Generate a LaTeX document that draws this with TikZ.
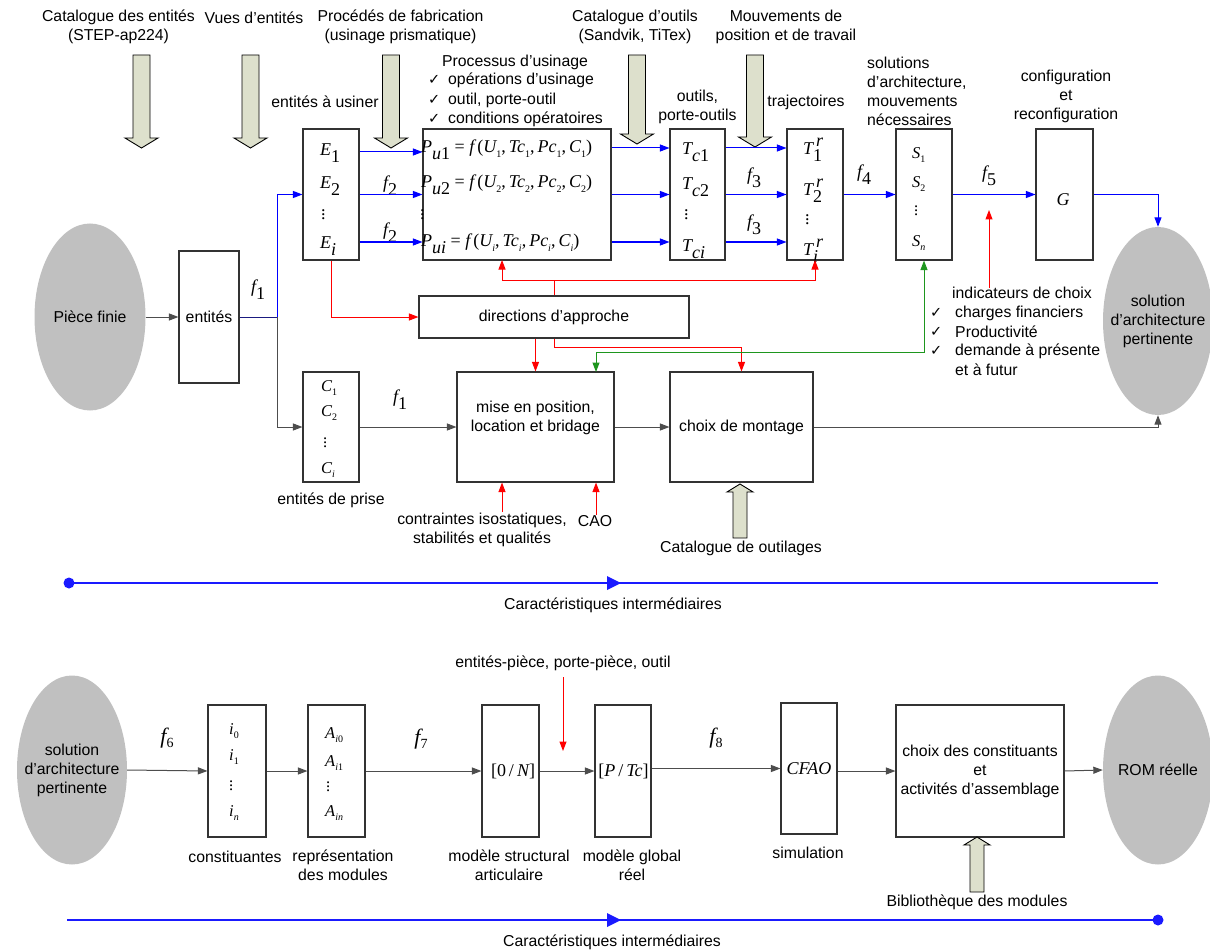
\documentclass[tikz,border=0pt]{standalone}
\usepackage{fontspec}
\setmainfont{Liberation Sans}
\newfontfamily\tms{Liberation Serif}
\newfontfamily\dvs{DejaVu Sans}
\usetikzlibrary{arrows.meta,shapes.geometric}
\definecolor{boxc}{HTML}{333333}
\definecolor{linec}{HTML}{4D4D4D}
\definecolor{ellc}{HTML}{C0C0C0}
\definecolor{olv}{HTML}{DDE0CC}
\definecolor{grn}{HTML}{1E961E}
\definecolor{navyc}{HTML}{1A1A80}
\definecolor{tlblue}{HTML}{1A1AFF}
\newcommand{\mvar}[1]{{\itshape #1}}
\newcommand{\bigsub}[1]{\raisebox{-.40em}{#1}}
\newcommand{\smsub}[1]{\raisebox{-.25em}{\fontsize{10}{10}\selectfont #1}}
\newcommand{\bigsup}[1]{\raisebox{.42em}{#1}}
\newcommand{\vdt}{\raisebox{0pt}[8pt][0pt]{$\vdots$}}
\newcommand{\hdown}[3]{\draw[hollow] (#1-8.5,#2) -- (#1-8.5,#3-10) -- (#1-16.5,#3-10) -- (#1,#3) -- (#1+16.5,#3-10) -- (#1+8.5,#3-10) -- (#1+8.5,#2) -- cycle;}
\newcommand{\hup}[3]{\draw[hollow] (#1-7,#3) -- (#1-7,#2+8) -- (#1-13,#2+8) -- (#1,#2) -- (#1+13,#2+8) -- (#1+7,#2+8) -- (#1+7,#3) -- cycle;}
\begin{document}
\begin{tikzpicture}[x=1pt,y=-1pt,
  every node/.style={font=\fontsize{15.8}{19}\selectfont, inner sep=0pt, text=black},
  box/.style={draw=boxc, line width=1.1pt, fill=white},
  mth/.style={font=\tms\fontsize{18}{19}\selectfont, inner sep=0pt},
  mths/.style={font=\tms\fontsize{16.5}{19}\selectfont, inner sep=0pt},
  mthb/.style={font=\tms\fontsize{18}{20}\selectfont, inner sep=0pt},
  mthf/.style={font=\tms\fontsize{22}{22}\selectfont, inner sep=0pt},
  ell/.style={ellipse, fill=ellc, draw=none},
  ln/.style={draw=linec, line width=1pt},
  tip/.style={-{Triangle[length=9.5pt,width=7pt]}},
  arr/.style={ln, tip},
  barr/.style={draw=blue, line width=1pt, tip},
  rarr/.style={draw=red, line width=1pt, tip},
  garr/.style={draw=grn, line width=1pt, {Triangle[length=9.5pt,width=7pt]}-{Triangle[length=9.5pt,width=7pt]}},
  hollow/.style={draw=black, line width=0.9pt, fill=olv},
  tl/.style={draw=tlblue, line width=1.8pt},
  ck/.style={font=\dvs\fontsize{14.5}{15}\selectfont, anchor=west}
]
\useasboundingbox (0,0) rectangle (1210,952);

% ---------- header texts ----------
\node[align=center] (hd1) at (118.5,27) {Catalogue des entités\\(STEP-ap224)};
\node (hd2) at (254,18) {Vues d’entités};
\node[align=center] (hd3) at (400.5,27) {Procédés de fabrication\\(usinage prismatique)};
\node[align=center] (hd4) at (635,27) {Catalogue d’outils\\(Sandvik, TiTex)};
\node[align=center] (hd5) at (786,27) {Mouvements de\\position et de travail};

% ---------- hollow arrows ----------
\hdown{141.5}{55}{148}
\hdown{250.5}{55}{148}
\hdown{391}{55}{148}
\hdown{637}{55}{144}
\hdown{755}{55}{147}

% ---------- labels above boxes ----------
\node (lbE) at (325,102) {entités à usiner};
\node (lbP) at (515,62) {Processus d’usinage};
\node[ck] (ck1) at (428,80) {✓};
\node[anchor=west] (op1) at (448,80) {opérations d’usinage};
\node[ck] (ck2) at (428,100) {✓};
\node[anchor=west] (op2) at (448,100) {outil, porte-outil};
\node[ck] (ck3) at (428,119) {✓};
\node[anchor=west] (op3) at (448,119) {conditions opératoires};
\node[align=center] (lbT) at (697.5,106.5) {outils,\\porte-outils};
\node (lbTr) at (806,102) {trajectoires};
\node[align=left, anchor=west] (lbS) at (867,91) {solutions\\d’architecture,\\mouvements\\nécessaires};
\node[align=center] (lbG) at (1066,96) {configuration\\et\\reconfiguration};

% ---------- top row boxes ----------
\node[ell, minimum width=111pt, minimum height=187pt] (piece) at (90,317) {};
\node (piecetxt) at (90,317) {Pièce finie};
\node[box, minimum width=60pt, minimum height=132pt] (ent) at (209,317) {entités};
\node[box, minimum width=56pt, minimum height=131pt] (E) at (331,194.5) {};
\node[box, minimum width=188pt, minimum height=131pt] (P) at (517,194.5) {};
\node[box, minimum width=55pt, minimum height=131pt] (Tc) at (697.5,194.5) {};
\node[box, minimum width=56pt, minimum height=131pt] (Tr) at (815,194.5) {};
\node[box, minimum width=56pt, minimum height=131pt] (S) at (924,194.5) {};
\node[box, minimum width=57pt, minimum height=131pt] (G) at (1064.5,194.5) {};
\node[ell, minimum width=110pt, minimum height=188pt] (sol) at (1158,321) {};
\node[align=center] (soltxt) at (1158,321) {solution\\d’architecture\\pertinente};

% contents E
\node[mth, anchor=west] (e1) at (320,153) {\mvar{E}\bigsub{1}};
\node[mth, anchor=west] (e2) at (320,186) {\mvar{E}\bigsub{2}};
\node[mth, anchor=west] (e3) at (321,216) {\vdt};
\node[mth, anchor=west] (e4) at (320,246) {\mvar{E}\bigsub{\mvar{i}}};
% contents P
\node[mth, anchor=west] (p1) at (421,150) {\mvar{P}\bigsub{\mvar{u}1} = \mvar{f}\,(\mvar{U}\smsub{1},\,\mvar{Tc}\smsub{1},\,\mvar{Pc}\smsub{1},\,\mvar{C}\smsub{1})};
\node[mth, anchor=west] (p2) at (421,185) {\mvar{P}\bigsub{\mvar{u}2} = \mvar{f}\,(\mvar{U}\smsub{2},\,\mvar{Tc}\smsub{2},\,\mvar{Pc}\smsub{2},\,\mvar{C}\smsub{2})};
\node[mth, anchor=west] (p3) at (420,215) {\vdt};
\node[mth, anchor=west] (p4) at (421,244) {\mvar{P}\bigsub{\mvar{ui}} = \mvar{f}\,(\mvar{U}\smsub{\mvar{i}},\,\mvar{Tc}\smsub{\mvar{i}},\,\mvar{Pc}\smsub{\mvar{i}},\,\mvar{C}\smsub{\mvar{i}})};
% contents Tc
\node[mth, anchor=west] (t1) at (682,152) {\mvar{T}\bigsub{\mvar{c}1}};
\node[mth, anchor=west] (t2) at (682,187) {\mvar{T}\bigsub{\mvar{c}2}};
\node[mth, anchor=west] (t3) at (684,216) {\vdt};
\node[mth, anchor=west] (t4) at (682,249) {\mvar{T}\bigsub{\mvar{ci}}};
% contents Tr
\node[mth, anchor=west] (r1) at (803,150) {\mvar{T}\rlap{\bigsup{\,\mvar{r}}}\bigsub{1}};
\node[mth, anchor=west] (r2) at (803,191) {\mvar{T}\rlap{\bigsup{\,\mvar{r}}}\bigsub{2}};
\node[mth, anchor=west] (r3) at (805,221) {\vdt};
\node[mth, anchor=west] (r4) at (803,251) {\mvar{T}\rlap{\bigsup{\,\mvar{r}}}\bigsub{\mvar{i}}};
% contents S
\node[mths, anchor=west] (s1) at (912,155) {\mvar{S}\smsub{1}};
\node[mths, anchor=west] (s2) at (912,184) {\mvar{S}\smsub{2}};
\node[mths, anchor=west] (s3) at (914,212) {\vdt};
\node[mths, anchor=west] (s4) at (912,243) {\mvar{S}\smsub{\mvar{n}}};
\node[mthb] (gg) at (1063,200) {\mvar{G}};

% f labels top
\node[mth] (f1a) at (258,290) {\mvar{f}\bigsub{1}};
\node[mth] (f2a) at (390,186) {\mvar{f}\bigsub{2}};
\node[mth] (f2b) at (390,233) {\mvar{f}\bigsub{2}};
\node[mth] (f3a) at (754,178) {\mvar{f}\bigsub{3}};
\node[mth] (f3b) at (754,225) {\mvar{f}\bigsub{3}};
\node[mth] (f4a) at (864,175) {\mvar{f}\bigsub{4}};
\node[mth] (f5a) at (989,176) {\mvar{f}\bigsub{5}};
\node[mth] (f1b) at (400,400) {\mvar{f}\bigsub{1}};

% ---------- middle row ----------
\node[box, minimum width=270pt, minimum height=42pt] (dir) at (554,317) {directions d’approche};
\node[box, minimum width=56pt, minimum height=110pt] (C) at (331,427) {};
\node[mths, anchor=west] (c1) at (321,388) {\mvar{C}\smsub{1}};
\node[mths, anchor=west] (c2) at (321,413) {\mvar{C}\smsub{2}};
\node[mths, anchor=west] (c3) at (323,443) {\vdt};
\node[mths, anchor=west] (c4) at (321,470) {\mvar{C}\smsub{\mvar{i}}};
\node (lbC) at (331,500) {entités de prise};
\node[box, minimum width=157pt, minimum height=110pt] (mise) at (535.5,427) {};
\node[align=center] (misetxt) at (535.5,418) {mise en position,\\location et bridage};
\node[box, minimum width=143pt, minimum height=110pt] (choix) at (741.5,427) {choix de montage};
\node[align=center] (lbct) at (482,529.5) {contraintes isostatiques,\\stabilités et qualités};
\node (cao) at (595,521) {CAO};
\node (lbcat) at (741,548) {Catalogue de outilages};
\hup{740}{484}{538}

\node (lbind) at (1022,293) {indicateurs de choix};
\node[ck] (ck4) at (930,313) {✓};
\node[anchor=west] (in1) at (955,313) {charges financiers};
\node[ck] (ck5) at (930,332) {✓};
\node[anchor=west] (in2) at (955,332) {Productivité};
\node[ck] (ck6) at (930,351) {✓};
\node[anchor=west] (in3) at (955,351) {demande à présente};
\node[anchor=west] (in4) at (955,370) {et à futur};

% ---------- connectors top ----------
\coordinate (ya) at (0,152);
\coordinate (yb) at (0,148);
\coordinate (yc) at (0,242);
\coordinate (j1) at (277,317);
\draw[arr] (piece.east) -- (ent.west);
\draw[draw=navyc, line width=1pt] (ent.east) -- (j1);
\draw[barr] (j1) |- (E.west);
\draw[arr] (j1) |- (C.west);
\draw[barr] (E.east |- ya) -- (P.west |- ya);
\draw[barr] (E.east) -- (P.west);
\draw[barr] (E.east |- yc) -- (P.west |- yc);
\draw[barr] (P.east |- yb) -- (Tc.west |- yb);
\draw[barr] (P.east) -- (Tc.west);
\draw[barr] (P.east |- yc) -- (Tc.west |- yc);
\draw[barr] (Tc.east |- yb) -- (Tr.west |- yb);
\draw[barr] (Tc.east) -- (Tr.west);
\draw[barr] (Tc.east |- yc) -- (Tr.west |- yc);
\draw[barr] (Tr.east) -- (S.west);
\draw[barr] (S.east) -- (G.west);
\draw[barr] (G.east) -| (sol.north);
\draw[arr] (C.east) -- (mise.west);
\draw[arr] (mise.east) -- (choix.west);
\draw[arr] (choix.east) -| (sol.south);

% red
\coordinate (rj) at (554,280);
\coordinate (pin) at (502,260);
\coordinate (trin) at (815,260);
\coordinate (rk) at (554,347);
\coordinate (cin) at (502,512);
\coordinate (ind1) at (989,288);
\coordinate (ind2) at (989,210);
\draw[rarr] (E.south) |- (dir.west);
\draw[rarr] (dir.north) -- (rj) -| (pin);
\draw[rarr] (rj) -| (trin);
\draw[rarr] (dir.south -| mise.north) -- (mise.north);
\draw[rarr] (dir.south) -- (rk) -| (choix.north);
\draw[rarr] (cin) -- (cin |- mise.south);
\draw[rarr] ([xshift=1pt]cao.north) -- ([xshift=1pt]cao.north |- mise.south);
\draw[rarr] (ind1) -- (ind2);
% green
\coordinate (g1) at (924,352);
\coordinate (gm) at (596,372);
\draw[garr] (S.south) -- (g1) -| (gm);

% ---------- timeline 1 ----------
\coordinate (tla) at (69,583);
\coordinate (tlb) at (1158,583);
\draw[tl] (tla) -- (tlb);
\fill[tlblue] (tla) circle[radius=5.5pt];
\fill[tlblue] (607,576) -- (621,583) -- (607,590) -- cycle;
\node (tll1) at (613,605) {Caractéristiques intermédiaires};

% ---------- bottom row ----------
\node[ell, minimum width=110pt, minimum height=189pt] (sol2) at (72,770) {};
\node[align=center] (sol2txt) at (72,770) {solution\\d’architecture\\pertinente};
\node[box, minimum width=58pt, minimum height=132pt] (cst) at (237,771) {};
\node[mths, anchor=west] (i1) at (229,731) {\mvar{i}\smsub{0}};
\node[mths, anchor=west] (i2) at (229,757) {\mvar{i}\smsub{1}};
\node[mths, anchor=west] (i3) at (229,786) {\vdt};
\node[mths, anchor=west] (i4) at (229,813) {\mvar{i}\smsub{\mvar{n}}};
\node[box, minimum width=57pt, minimum height=132pt] (Ab) at (336.5,771) {};
\node[mths, anchor=west] (a1) at (325,735) {\mvar{A}\smsub{\mvar{i}0}};
\node[mths, anchor=west] (a2) at (325,763) {\mvar{A}\smsub{\mvar{i}1}};
\node[mths, anchor=west] (a3) at (326,787) {\vdt};
\node[mths, anchor=west] (a4) at (325,813) {\mvar{A}\smsub{\mvar{in}}};
\node[box, minimum width=57pt, minimum height=132pt] (ON) at (510.5,771) {};
\node[mthb] (ont) at (513,771) {[0\,/\,\mvar{N}]};
\node[box, minimum width=56pt, minimum height=132pt] (PT) at (623,771) {};
\node[mthb] (ptt) at (623.5,771) {[\mvar{P}\,/\,\mvar{Tc}]};
\node[box, minimum width=56pt, minimum height=131pt] (cfao) at (809,768.5) {};
\node[mthb] (cft) at (809,769) {\mvar{CFAO}};
\node[box, minimum width=168pt, minimum height=132pt, align=center] (choix2) at (980,771) {choix des constituants\\et\\activités d’assemblage};
\node[ell, minimum width=110pt, minimum height=189pt] (rom) at (1158,770) {};
\node (romtxt) at (1158,770) {ROM réelle};

\node (lbcst) at (235,857) {constituantes};
\node[align=center] (lbab) at (343,865.5) {représentation\\des modules};
\node[align=center] (lbon) at (509,865) {modèle structural\\articulaire};
\node[align=center] (lbpt) at (632,865) {modèle global\\réel};
\node (lbcf) at (808,853) {simulation};
\node (lbep) at (563,663) {entités-pièce, porte-pièce, outil};
\node (lbbib) at (977,902) {Bibliothèque des modules};
\hup{977}{837}{892}

\node[mthf] (f6) at (167,738) {\mvar{f}\raisebox{-.2em}{\fontsize{14}{14}\selectfont 6}};
\node[mthf] (f7) at (421,739) {\mvar{f}\raisebox{-.2em}{\fontsize{14}{14}\selectfont 7}};
\node[mthf] (f8) at (716,738) {\mvar{f}\raisebox{-.2em}{\fontsize{14}{14}\selectfont 8}};

\coordinate (rb1) at (563,677);
\coordinate (rb2) at (563,751);
\draw[arr] (sol2.east) -- (cst.west);
\draw[arr] (cst.east) -- (Ab.west);
\draw[arr] (Ab.east) -- (ON.west);
\draw[arr] (ON.east) -- (PT.west);
\draw[arr] (PT.east |- cfao.west) -- (cfao.west);
\draw[arr] (cfao.east |- choix2.west) -- (choix2.west);
\draw[arr] (choix2.east) -- (rom.west);
\draw[rarr] (rb1) -- (rb2);

% ---------- timeline 2 ----------
\coordinate (tlc) at (67,920);
\coordinate (tld) at (1158,920);
\draw[tl] (tlc) -- (tld);
\fill[tlblue] (tld) circle[radius=5.5pt];
\fill[tlblue] (607,913) -- (621,920) -- (607,927) -- cycle;
\node (tll2) at (612,942) {Caractéristiques intermédiaires};
\end{tikzpicture}
\end{document}
